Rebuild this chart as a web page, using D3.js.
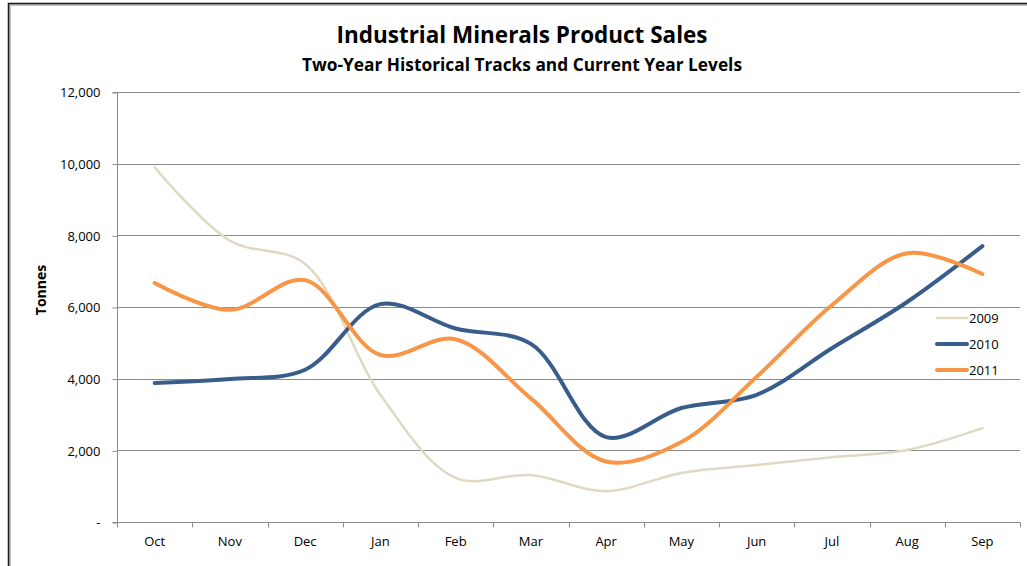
<!DOCTYPE html>
<html>
<head>
<meta charset="utf-8">
<script src="https://cdn.jsdelivr.net/npm/d3@7"></script>
<style>
  body { margin: 0; background: #fff; }
  svg { display: block; font-family: "Open Sans", "Liberation Sans", sans-serif; }
</style>
</head>
<body>
<svg id="chart"></svg>
<script>
// chart data
var months = ["Oct", "Nov", "Dec", "Jan", "Feb", "Mar", "Apr", "May", "Jun", "Jul", "Aug", "Sep"];
var years = ["2009", "2010", "2011"];
var sales2009 = [9900, 7850, 7200, 3550, 1230, 1310, 860, 1370, 1590, 1810, 2010, 2620];
var sales2010 = [3880, 3990, 4250, 6080, 5400, 4970, 2370, 3180, 3550, 4850, 6140, 7700];
var sales2011 = [6670, 5920, 6750, 4660, 5100, 3450, 1690, 2230, 4050, 6050, 7500, 6920];
var yTicks = [0, 2000, 4000, 6000, 8000, 10000, 12000];

var series = [
  { name: years[0], values: sales2009, color: "#DDD9C3", width: 2.5 },
  { name: years[1], values: sales2010, color: "#385D8A", width: 4 },
  { name: years[2], values: sales2011, color: "#F79646", width: 4 }
];

var width = 1027, height = 566;
var plotLeft = 117, plotRight = 1020, plotTop = 92, plotBottom = 522;

var svg = d3.select('#chart')
    .attr("width", width)
    .attr("height", height);

// outer frame
svg.append('rect')
    .attr('x', 10).attr('y', 5)
    .attr('width', 1040).attr('height', 600)
    .attr('fill', 'none')
    .attr('stroke', '#bfbfbf').attr('stroke-width', 2);
svg.append('rect')
    .attr('x', 8.5).attr('y', 3.5)
    .attr('width', 1040).attr('height', 600)
    .attr('fill', 'none')
    .attr('stroke', '#1a1a1a').attr('stroke-width', 1.5);

var x = d3.scaleBand().domain(months).range([plotLeft, plotRight]);
var y = d3.scaleLinear().domain([0, 12000]).range([plotBottom, plotTop]);

// gridlines
svg.append('g')
    .selectAll('line')
    .data(yTicks.slice(1))
    .enter()
    .append('line')
    .attr('x1', plotLeft).attr('x2', plotRight)
    .attr('y1', function(d) { return Math.round(y(d)) + 0.5; })
    .attr('y2', function(d) { return Math.round(y(d)) + 0.5; })
    .attr('stroke', '#8c8c8c').attr('stroke-width', 1);

// y axis
var yAxis = svg.append('g')
    .attr('transform', 'translate(' + (plotLeft + 0.5) + ',0.5)')
    .call(d3.axisLeft(y).tickValues(yTicks).tickSize(5).tickPadding(12)
        .tickFormat(function(d) { return d === 0 ? '-' : d3.format(',')(d); }));
yAxis.selectAll('line, path').attr('stroke', '#8c8c8c');
yAxis.select('.domain').attr('d', 'M-5,' + plotTop + 'H0V' + plotBottom + 'H-5');
yAxis.selectAll('text').attr('fill', '#000').style('font-size', '13px')
    .style('font-family', '"Open Sans", sans-serif');

// x axis
var xAxis = svg.append('g')
    .attr('transform', 'translate(0,' + (plotBottom + 0.5) + ')')
    .call(d3.axisBottom(x).tickSize(0).tickPadding(14));
xAxis.select('.domain').attr('stroke', '#8c8c8c').attr('d', 'M' + plotLeft + ',0H' + plotRight);
xAxis.selectAll('text').attr('fill', '#000').style('font-size', '13px')
    .style('font-family', '"Open Sans", sans-serif');
xAxis.append('g')
    .selectAll('line')
    .data(d3.range(months.length + 1))
    .enter()
    .append('line')
    .attr('x1', function(i) { return Math.round(plotLeft + i * x.bandwidth()) + 0.5; })
    .attr('x2', function(i) { return Math.round(plotLeft + i * x.bandwidth()) + 0.5; })
    .attr('y1', 0).attr('y2', 5)
    .attr('stroke', '#8c8c8c');

// lines
var line = d3.line()
    .x(function(d, i) { return x(months[i]) + x.bandwidth() / 2; })
    .y(function(d) { return y(d); })
    .curve(d3.curveCatmullRom.alpha(0.5));

svg.append('g')
    .selectAll('path')
    .data(series)
    .enter()
    .append('path')
    .attr('d', function(s) { return line(s.values); })
    .attr('fill', 'none')
    .attr('stroke', function(s) { return s.color; })
    .attr('stroke-width', function(s) { return s.width; })
    .attr('stroke-linecap', 'round')
    .attr('stroke-linejoin', 'round');

// legend
var legend = svg.append('g')
    .selectAll('g')
    .data(series)
    .enter()
    .append('g')
    .attr('transform', function(s, i) { return 'translate(937,' + (318 + i * 26) + ')'; });
legend.append('line')
    .attr('x1', 0).attr('x2', 30)
    .attr('stroke', function(s) { return s.color; })
    .attr('stroke-width', function(s) { return s.width; })
    .attr('stroke-linecap', 'round');
legend.append('text')
    .attr('x', 32).attr('dy', '0.35em')
    .style('font-size', '13px')
    .text(function(s) { return s.name; });

// titles
svg.append('text')
    .attr('x', 522).attr('y', 43)
    .attr('text-anchor', 'middle')
    .attr('textLength', 371).attr('lengthAdjust', 'spacingAndGlyphs')
    .style('font-size', '24px').style('font-weight', 'bold')
    .text('Industrial Minerals Product Sales');
svg.append('text')
    .attr('x', 522).attr('y', 71)
    .attr('text-anchor', 'middle')
    .attr('textLength', 440).attr('lengthAdjust', 'spacingAndGlyphs')
    .style('font-size', '17px').style('font-weight', 'bold')
    .text('Two-Year Historical Tracks and Current Year Levels');

svg.append('text')
    .attr('transform', 'translate(46,290) rotate(-90)')
    .attr('text-anchor', 'middle')
    .style('font-size', '14px').style('font-weight', 'bold')
    .text('Tonnes');
</script>
</body>
</html>
